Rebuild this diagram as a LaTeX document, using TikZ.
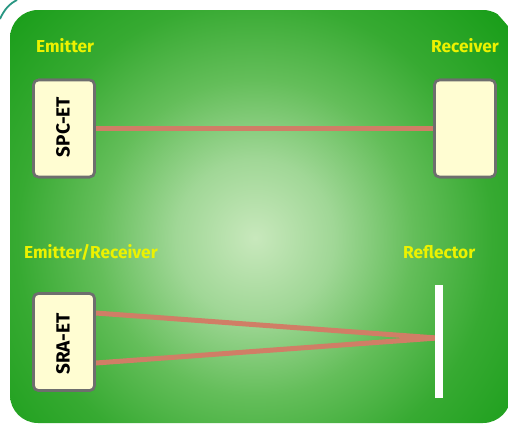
\documentclass[tikz,border=0pt]{standalone}
\usepackage{fontspec}
\setmainfont{Fira Sans}
\definecolor{gA}{RGB}{200,232,188}
\definecolor{gB}{RGB}{160,215,150}
\definecolor{gC}{RGB}{100,190,90}
\definecolor{gD}{RGB}{55,170,50}
\definecolor{gE}{RGB}{26,158,26}
\definecolor{lblyellow}{RGB}{236,242,0}
\definecolor{boxfill}{RGB}{255,253,210}
\definecolor{boxedge}{RGB}{110,110,110}
\definecolor{beam}{RGB}{208,126,102}
\definecolor{tealarc}{RGB}{40,150,130}
\pgfdeclareradialshading{bgshade}{\pgfpoint{0bp}{0bp}}{color(0bp)=(gA); color(6bp)=(gB); color(12bp)=(gC); color(18bp)=(gD); color(25bp)=(gE); color(100bp)=(gE)}
\tikzset{
  lbl/.style={text=lblyellow, font=\fontsize{17.3}{19}\selectfont\bfseries, anchor=base west, inner sep=0pt},
  devbox/.style={draw=boxedge, line width=2.6pt, fill=boxfill, rounded corners=5pt, minimum width=61pt, minimum height=97pt, inner sep=0pt},
  devtext/.style={font=\fontsize{19}{20}\selectfont\bfseries, rotate=90},
  beamline/.style={draw=beam, line width=5pt},
}
\begin{document}
\begin{tikzpicture}[x=1pt,y=-1pt]
\useasboundingbox (0,0) rectangle (508,424);
\fill[white] (0,0) rectangle (508,424);
\draw[tealarc, line width=1.8pt] (0,19) .. controls (4,10) and (9,4) .. (17,0);
\begin{scope}
  \clip[rounded corners=28pt] (10,10) rectangle (511,423);
  \shade[shading=bgshade] (255,238) circle (330);
\end{scope}
% labels
\node[lbl] (lem) at (36,52) {Emitter};
\node[lbl] (lrc) at (431,52) {Receiver};
\node[lbl] (ler) at (24,258) {Emitter/Receiver};
\node[lbl] (lrf) at (403,258) {Reflector};
% beams
\coordinate (rp) at (437,338);
\node[devbox] (spc) at (64,128.5) {};
\node[devbox] (rcv) at (465,128.5) {};
\node[devbox] (sra) at (64,342) {};
\coordinate (s1) at (sra.east |- 0,313);
\coordinate (s2) at (sra.east |- 0,363);
\draw[beamline] (spc.east) -- (rcv.west);
\draw[beamline] (s1) -- (rp);
\draw[beamline] (s2) -- (rp);
\node[devbox] at (spc) {};
\node[devbox] at (rcv) {};
\node[devbox] at (sra) {};
\node[devtext] (tspc) at (63,127) {SPC-ET};
\node[devtext] (tsra) at (63,344) {SRA-ET};
% reflector
\node[fill=white, minimum width=8pt, minimum height=113pt, inner sep=0pt] (refl) at (439,341.5) {};
\end{tikzpicture}
\end{document}
